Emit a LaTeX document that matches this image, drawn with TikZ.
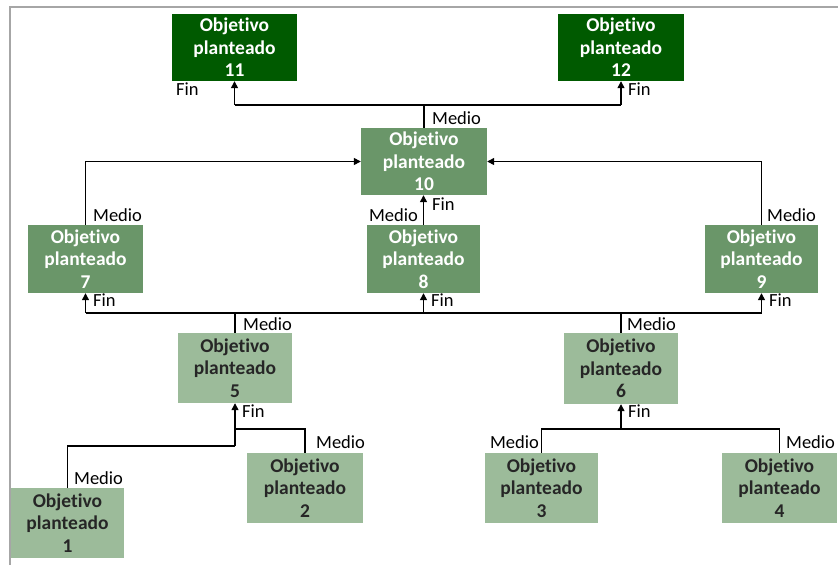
\documentclass[tikz,border=0pt]{standalone}
\usepackage{fontspec}
\setmainfont{Carlito}[Ligatures=NoCommon]
\usetikzlibrary{arrows.meta}

\definecolor{gdark}{RGB}{0,90,0}
\definecolor{gmid}{RGB}{106,150,105}
\definecolor{glight}{RGB}{156,187,154}
\definecolor{frame}{RGB}{166,166,166}

\tikzset{
  obj/.style={rectangle, inner sep=0pt, align=center,
    font=\fontsize{19.5}{22.5}\selectfont\bfseries},
  top/.style={obj, fill=gdark, text=white},
  mid/.style={obj, fill=gmid, text=white},
  low/.style={obj, fill=glight, text=black!85},
  tag/.style={inner sep=0pt, font=\fontsize{18.5}{20}\selectfont, text=black},
  link/.style={draw=black, line width=1.3pt},
  arr/.style={link, -{Triangle[length=7pt,width=7pt]}},
}

\begin{document}
\begin{tikzpicture}[x=1pt, y=-1pt]
  \useasboundingbox (0,0) rectangle (838,565);
  % page frame
  \draw[frame, line width=1.5pt] (10,565) -- (10,7) -- (838,7);

  % objectives
  \node[top, minimum width=125pt, minimum height=67pt] (n11) at (234.5,47.5) {Objetivo\\planteado\\11};
  \node[top, minimum width=126pt, minimum height=67pt] (n12) at (621,47.5) {Objetivo\\planteado\\12};
  \node[mid, minimum width=126pt, minimum height=67pt] (n10) at (424,161.5) {Objetivo\\planteado\\10};
  \node[mid, minimum width=115pt, minimum height=68pt] (n7) at (85.5,259) {Objetivo\\planteado\\7};
  \node[mid, minimum width=113pt, minimum height=68pt] (n8) at (423.5,259) {Objetivo\\planteado\\8};
  \node[mid, minimum width=113pt, minimum height=68pt] (n9) at (761.5,259) {Objetivo\\planteado\\9};
  \node[low, minimum width=114pt, minimum height=70pt] (n5) at (235,368) {Objetivo\\planteado\\5};
  \node[low, minimum width=114pt, minimum height=71pt] (n6) at (621,368.5) {Objetivo\\planteado\\6};
  \node[low, minimum width=113pt, minimum height=70pt] (n1) at (67.5,523) {Objetivo\\planteado\\1};
  \node[low, minimum width=116pt, minimum height=70pt] (n2) at (305,488) {Objetivo\\planteado\\2};
  \node[low, minimum width=113pt, minimum height=70pt] (n3) at (541.5,488) {Objetivo\\planteado\\3};
  \node[low, minimum width=115pt, minimum height=70pt] (n4) at (779.5,488) {Objetivo\\planteado\\4};

  % junction levels
  \coordinate (lvA) at (0,105);
  \coordinate (lvB) at (0,313);
  \coordinate (lvC) at (0,429);
  \coordinate (lvD) at (0,446);

  % 10 -> 11, 12
  \draw[link] (n10.north) -- (n10.north |- lvA);
  \draw[link] (n11.south |- lvA) -- (n12.south |- lvA);
  \draw[arr] (n11.south |- lvA) -- (n11.south);
  \draw[arr] (n12.south |- lvA) -- (n12.south);

  % 7, 8, 9 -> 10
  \draw[arr] (n7.north) |- (n10.west);
  \draw[arr] (n9.north) |- (n10.east);
  \draw[arr] (n8.north) -- (n8.north |- n10.south);

  % 5, 6 -> 7, 8, 9
  \draw[link] (n7.south |- lvB) -- (n9.south |- lvB);
  \draw[link] (n5.north) -- (n5.north |- lvB);
  \draw[link] (n6.north) -- (n6.north |- lvB);
  \draw[arr] (n7.south |- lvB) -- (n7.south);
  \draw[arr] (n8.south |- lvB) -- (n8.south);
  \draw[arr] (n9.south |- lvB) -- (n9.south);

  % 1, 2 -> 5
  \coordinate (j5) at (n5.south |- lvD);
  \draw[link] (n1.north) |- (j5);
  \draw[link] (n2.north) |- (n5.south |- lvC);
  \draw[arr] (j5) -- (n5.south);

  % 3, 4 -> 6
  \draw[link] (n3.north) |- (n4.north |- lvC) -- (n4.north);
  \draw[arr] (n6.south |- lvC) -- (n6.south);

  % labels
  \node[tag, anchor=west] (f11) at (176,89) {Fin};
  \node[tag, anchor=west] (f12) at (628,89) {Fin};
  \node[tag, anchor=west] (m10) at (432,118) {Medio};
  \node[tag, anchor=west] (f10) at (432,204) {Fin};
  \node[tag, anchor=west] (m7) at (93,215) {Medio};
  \node[tag, anchor=east] (m8) at (418,215) {Medio};
  \node[tag, anchor=west] (m9) at (767,215) {Medio};
  \node[tag, anchor=west] (f7) at (93,300) {Fin};
  \node[tag, anchor=west] (f8) at (431,300) {Fin};
  \node[tag, anchor=west] (f9) at (769,300) {Fin};
  \node[tag, anchor=west] (m5) at (243,324) {Medio};
  \node[tag, anchor=west] (m6) at (627,324) {Medio};
  \node[tag, anchor=west] (f5) at (242,411) {Fin};
  \node[tag, anchor=west] (f6) at (628,411) {Fin};
  \node[tag, anchor=west] (m2) at (316,442) {Medio};
  \node[tag, anchor=west] (m1) at (74,478) {Medio};
  \node[tag, anchor=east] (m3) at (539,442) {Medio};
  \node[tag, anchor=west] (m4) at (786,442) {Medio};
\end{tikzpicture}
\end{document}
